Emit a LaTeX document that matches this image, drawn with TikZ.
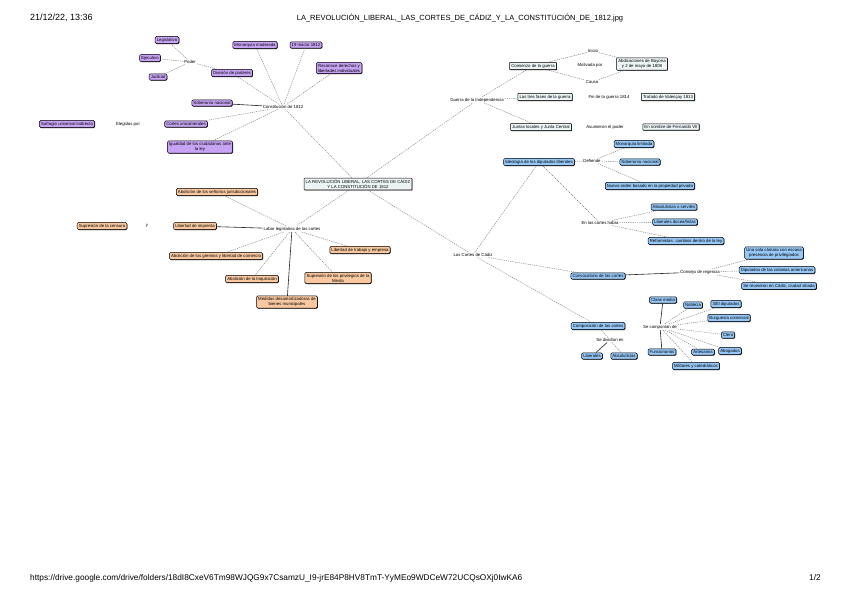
\documentclass[tikz,border=0pt]{standalone}
\usepackage{fontspec}
\setmainfont{Liberation Sans}
\usepackage{tikz}
\usetikzlibrary{shadows}

\definecolor{lila}{HTML}{C7A3F4}
\definecolor{naranja}{HTML}{F9C8A0}
\definecolor{azul}{HTML}{96C7F6}
\definecolor{gris}{HTML}{EEF4F6}

\begin{document}
\begin{tikzpicture}[x=1pt,y=-1pt,
    caja/.style={draw=black, line width=0.5pt, rounded corners=1.2pt, inner xsep=1.6pt, inner ysep=1.5pt,
        font=\fontsize{4.3}{5}\selectfont, align=center,
        drop shadow={shadow xshift=0.5pt, shadow yshift=-0.5pt, opacity=1, fill=black}},
    pcaja/.style={caja, fill=lila},
    ocaja/.style={caja, fill=naranja},
    bcaja/.style={caja, fill=azul},
    gcaja/.style={caja, fill=gris, rounded corners=0.4pt},
    enlace/.style={font=\fontsize{4.3}{5}\selectfont, inner sep=0.8pt},
    cabecera/.style={font=\fontsize{7.5}{9}\selectfont, inner sep=0pt},
    lnk/.style={draw=black!55, dash pattern=on 1.2pt off 1pt, line width=0.4pt},
    slnk/.style={draw=black!85, line width=0.6pt}]
        \useasboundingbox[fill=white] (0,0) rectangle (848,599);
        % cabecera y pie
        \node[cabecera, anchor=west, font=\fontsize{9}{10}\selectfont] (hora) at (30,18) {21/12/22, 13:36};
        \node[cabecera] (titulo) at (460,18) {LA\_REVOLUCIÓN\_LIBERAL,\_LAS\_CORTES\_DE\_CÁDIZ\_Y\_LA\_CONSTITUCIÓN\_DE\_1812.jpg};
        \node[cabecera, anchor=west, font=\fontsize{8.3}{10}\selectfont] (url) at (30,578) {https://drive.google.com/drive/folders/18dI8CxeV6Tm98WJQG9x7CsamzU\_I9-jrE84P8HV8TmT-YyMEo9WDCeW72UCQsOXj0IwKA6};
        \node[cabecera, font=\fontsize{8.3}{10}\selectfont] (pag) at (815,578) {1/2};
        % centro
        \node[gcaja] (centro) at (358,184) {LA REVOLUCIÓN LIBERAL, LAS CORTES DE CÁDIZ\\Y LA CONSTITUCIÓN DE 1812};
        % constitucion
        \node[pcaja] (legis) at (167,40) {Legislativo};
        \node[pcaja] (ejec) at (150,58) {Ejecutivo};
        \node[pcaja] (judic) at (158,77) {Judicial};
        \node[enlace] (poder) at (190,62) {Poder};
        \node[pcaja] (divis) at (232,73) {División de poderes};
        \node[pcaja] (monarq) at (255,45) {Monarquía moderada};
        \node[pcaja] (marzo) at (306,45) {19 marzo 1812};
        \node[pcaja] (derechos) at (339,68) {Reconoce derechos y\\libertades individuales};
        \node[pcaja] (sobnac) at (212,103) {Soberanía nacional};
        \node[enlace] (consti) at (283,107) {Constitución de 1812};
        \node[pcaja] (cortesu) at (186,124) {Cortes unicamerales};
        \node[enlace] (elegidas) at (128,124) {Elegidas por};
        \node[pcaja] (sufragio) at (67,124) {Sufragio universal indirecto};
        \node[pcaja] (igualdad) at (200,147) {Igualdad de los ciudadanos ante\\la ley};
        % labor de las cortes
        \node[enlace] (labor) at (292,229) {Labor legislativa de las cortes};
        \node[ocaja] (senorios) at (217,192) {Abolición de los señoríos jurisdiccionales};
        \node[ocaja] (imprenta) at (195,226) {Libertad de imprenta};
        \node[enlace] (ysep) at (147,226) {y};
        \node[ocaja] (censura) at (102,226) {Supresión de la censura};
        \node[ocaja] (gremios) at (216,256) {Abolición de los gremios y libertad de comercio};
        \node[ocaja] (inquis) at (252,279) {Abolición de la Inquisición};
        \node[ocaja] (desamort) at (287,302) {Medidas desamortizadoras de\\bienes municipales};
        \node[ocaja] (trabajo) at (360,250) {Libertad de trabajo y empresa};
        \node[ocaja] (mesta) at (338,278) {Supresión de los privilegios de la\\Mesta};
        % guerra
        \node[enlace] (guerra) at (477,100) {Guerra de la Independencia};
        \node[gcaja] (comienzo) at (533,66) {Comienzo de la guerra};
        \node[enlace] (inicio) at (593,51) {Inicio};
        \node[enlace] (motivada) at (590,65) {Motivada por};
        \node[enlace] (causa) at (592,82) {Causa};
        \node[gcaja] (bayona) at (642,64) {Abdicaciones de Bayona\\y 2 de mayo de 1808};
        \node[gcaja] (fases) at (545,97) {Las tres fases de la guerra};
        \node[enlace] (fin) at (609,97) {Fin de la guerra 1814};
        \node[gcaja] (valencay) at (668,97) {Tratado de Valençay 1813};
        \node[gcaja] (juntas) at (541,127) {Juntas locales y Junta Central};
        \node[enlace] (asumen) at (605,127) {Asumieron el poder};
        \node[gcaja] (fernando) at (671,127) {En nombre de Fernando VII};
        % cortes de cadiz
        \node[enlace] (cadiz) at (473,255) {Las Cortes de Cádiz};
        \node[bcaja] (ideolog) at (539,162) {Ideología de los diputados liberales};
        \node[enlace] (defiende) at (592,161) {Defiende};
        \node[bcaja] (monlim) at (634,144) {Monarquía limitada};
        \node[bcaja] (sobnac2) at (640,162) {Soberanía nacional};
        \node[bcaja] (propied) at (650,186) {Nuevo orden basado en la propiedad privada};
        \node[enlace] (grupos) at (600,223) {En las cortes había};
        \node[bcaja] (absol) at (674,207) {Absolutistas o serviles};
        \node[bcaja] (liber) at (675,222) {Liberales doceañistas};
        \node[bcaja] (reform) at (686,241) {Reformistas: cambios dentro de la ley};
        \node[bcaja] (convoc) at (598,276) {Convocatoria de las cortes};
        \node[enlace] (regencia) at (700,272) {Consejo de regencia};
        \node[bcaja] (camara) at (774,253) {Una sola cámara con escasa\\presencia de privilegiados};
        \node[bcaja] (colonias) at (777,270) {Diputados de las colonias americanas};
        \node[bcaja] (sitiada) at (779,286) {Se reunieron en Cádiz, ciudad sitiada};
        \node[bcaja] (compos) at (598,326) {Composición de las cortes};
        \node[enlace] (dividian) at (610,340) {Se dividían en};
        \node[bcaja] (liber2) at (592,356) {Liberales};
        \node[bcaja] (absol2) at (624,356) {Absolutistas};
        \node[enlace] (componian) at (660,327) {Se componían de};
        \node[bcaja] (clasemed) at (663,300) {Clase media};
        \node[bcaja] (nobleza) at (693,305) {Nobleza};
        \node[bcaja] (diput) at (726,304) {300 diputados};
        \node[bcaja] (burgues) at (729,318) {Burguesía comercial};
        \node[bcaja] (clero) at (728,335) {Clero};
        \node[bcaja] (abogad) at (730,351) {Abogados};
        \node[bcaja] (artes) at (703,352) {Artesanos};
        \node[bcaja] (funcion) at (662,352) {Funcionarios};
        \node[bcaja] (milit) at (696,366) {Militares y catedráticos};
        % conexiones
        \draw[lnk] (centro) -- (consti);
        \foreach \n in {monarq,marzo,derechos,divis,igualdad}
            \draw[lnk] (consti) -- (\n);
        \draw[slnk] (consti) -- (sobnac);
        \draw[lnk] (consti) -- (cortesu);
        \draw[lnk] (divis) -- (poder);
        \foreach \n in {legis,ejec,judic}
            \draw[lnk] (poder) -- (\n);
        \draw[lnk] (centro) -- (labor);
        \foreach \n in {senorios,gremios,inquis,trabajo,mesta}
            \draw[lnk] (labor) -- (\n);
        \draw[slnk] (labor) -- (imprenta);
        \draw[slnk] (labor) -- (desamort);
        \draw[lnk] (centro) -- (guerra);
        \foreach \n in {comienzo,fases,juntas}
            \draw[lnk] (guerra) -- (\n);
        \draw[lnk] (comienzo) -- (inicio);
        \draw[lnk] (inicio) -- (bayona);
        \draw[lnk] (comienzo) -- (causa);
        \draw[lnk] (causa) -- (bayona);
        \draw[lnk] (centro) -- (cadiz);
        \foreach \n in {ideolog,convoc,compos}
            \draw[lnk] (cadiz) -- (\n);
        \draw[lnk] (ideolog) -- (defiende);
        \foreach \n in {monlim,sobnac2,propied}
            \draw[lnk] (defiende) -- (\n);
        \draw[lnk] (ideolog) -- (grupos);
        \foreach \n in {absol,liber,reform}
            \draw[lnk] (grupos) -- (\n);
        \draw[slnk] (convoc) -- (regencia);
        \foreach \n in {camara,colonias,sitiada}
            \draw[lnk] (regencia) -- (\n);
        \draw[lnk] (compos) -- (dividian);
        \draw[slnk] (dividian) -- (liber2);
        \draw[lnk] (dividian) -- (absol2);
        \foreach \n in {nobleza,diput,burgues,clero,abogad,artes,milit}
            \draw[lnk] (componian) -- (\n);
        \draw[slnk] (componian) -- (clasemed);
        \draw[slnk] (componian) -- (funcion);
\end{tikzpicture}
\end{document}
